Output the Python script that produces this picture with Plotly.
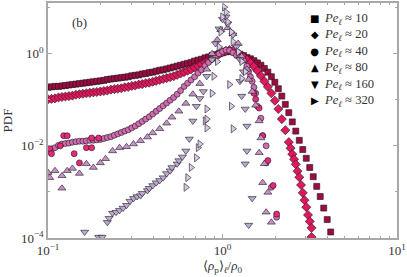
import plotly.graph_objects as go

# ---- data (decade exponents: log10 of <rho_p>/rho_0 and log10 of PDF) ----
labels = ["10", "20", "40", "80", "160", "320"]

pe10_lx = [-1.00,-0.98,-0.96,-0.94,-0.92,-0.90,-0.88,-0.86,-0.84,-0.82,-0.80,-0.78,-0.76,-0.74,-0.72,-0.70,
           -0.68,-0.66,-0.64,-0.62,-0.60,-0.58,-0.56,-0.54,-0.52,-0.50,-0.48,-0.46,-0.44,-0.42,-0.40,-0.38,
           -0.36,-0.34,-0.32,-0.30,-0.28,-0.26,-0.24,-0.22,-0.20,-0.18,-0.16,-0.14,-0.12,-0.10,-0.08,-0.06,
           -0.04,-0.02,0.00,0.02,0.04,0.06,0.08,0.10,0.12,0.14,0.16,0.18,0.20,0.22,0.24,0.26,0.28,0.30,
           0.32,0.34,0.36,0.38,0.40,0.42,0.44,0.46,0.48,0.50,0.52,0.54,0.56,0.58,0.60,0.62]
pe10_ly = [-0.73,-0.72,-0.71,-0.71,-0.70,-0.69,-0.68,-0.67,-0.66,-0.65,-0.64,-0.63,-0.62,-0.61,-0.60,-0.59,
           -0.58,-0.56,-0.55,-0.54,-0.53,-0.52,-0.51,-0.50,-0.48,-0.47,-0.46,-0.44,-0.43,-0.41,-0.40,-0.38,
           -0.36,-0.35,-0.33,-0.31,-0.29,-0.27,-0.25,-0.23,-0.21,-0.19,-0.16,-0.14,-0.12,-0.09,-0.07,-0.04,
           -0.02,0.00,0.02,0.04,0.05,0.04,0.02,-0.01,-0.04,-0.08,-0.11,-0.15,-0.20,-0.25,-0.32,-0.40,-0.50,-0.62,
           -0.76,-0.92,-1.10,-1.28,-1.48,-1.68,-1.88,-2.08,-2.27,-2.47,-2.67,-2.88,-3.10,-3.35,-3.60,-3.87]

pe20_lx = [-1.00,-0.98,-0.96,-0.94,-0.92,-0.90,-0.88,-0.86,-0.84,-0.82,-0.80,-0.78,-0.76,-0.74,-0.72,-0.70,
           -0.68,-0.66,-0.64,-0.62,-0.60,-0.58,-0.56,-0.54,-0.52,-0.50,-0.48,-0.46,-0.44,-0.42,-0.40,-0.38,
           -0.36,-0.34,-0.32,-0.30,-0.28,-0.26,-0.24,-0.22,-0.20,-0.18,-0.16,-0.14,-0.12,-0.10,-0.08,-0.06,
           -0.04,-0.02,0.00,0.02,0.04,0.06,0.08,0.10,0.12,0.14,0.16,0.18,0.20,0.22,0.24,0.26,0.28,0.30,
           0.32,0.34,0.36,0.38,0.39,0.40,0.41,0.42,0.43,0.44,0.45,0.46,0.47,0.48,0.49,0.50,0.51,0.51]
pe20_ly = [-0.99,-0.98,-0.97,-0.95,-0.94,-0.93,-0.92,-0.91,-0.89,-0.88,-0.87,-0.86,-0.85,-0.84,-0.83,-0.82,
           -0.81,-0.80,-0.78,-0.77,-0.76,-0.75,-0.73,-0.72,-0.70,-0.69,-0.67,-0.66,-0.64,-0.63,-0.61,-0.59,
           -0.57,-0.55,-0.53,-0.51,-0.49,-0.46,-0.43,-0.40,-0.37,-0.34,-0.30,-0.27,-0.23,-0.19,-0.15,-0.10,
           -0.06,-0.01,0.03,0.06,0.08,0.07,0.03,-0.02,-0.07,-0.13,-0.20,-0.28,-0.37,-0.48,-0.60,-0.72,-0.86,-1.02,
           -1.20,-1.42,-1.66,-1.92,-2.05,-2.18,-2.29,-2.40,-2.55,-2.68,-2.85,-3.02,-3.18,-3.33,-3.50,-3.64,-3.78,-3.98]

pe40_lx = [-1.00,-0.98,-0.96,-0.94,-0.92,-0.90,-0.88,-0.86,-0.84,-0.82,-0.80,-0.78,-0.76,-0.74,-0.72,-0.70,
           -0.68,-0.66,-0.64,-0.62,-0.60,-0.58,-0.56,-0.54,-0.52,-0.50,-0.48,-0.46,-0.44,-0.42,-0.40,-0.38,
           -0.36,-0.34,-0.32,-0.30,-0.28,-0.26,-0.24,-0.22,-0.20,-0.18,-0.16,-0.14,-0.12,-0.10,-0.08,-0.06,
           -0.04,-0.02,0.00,0.02,0.04,0.06,0.08,0.10,0.12,0.14,0.15,0.16,0.17,0.18,0.19,0.20,0.22,0.23,
           0.25,0.25,0.28,0.31]
pe40_ly = [-2.12,-2.08,-2.04,-1.99,-1.96,-1.95,-1.94,-1.92,-1.91,-1.90,-1.90,-1.89,-1.88,-1.88,-1.87,-1.86,
           -1.84,-1.82,-1.80,-1.77,-1.74,-1.71,-1.68,-1.65,-1.61,-1.57,-1.52,-1.47,-1.42,-1.37,-1.31,-1.25,
           -1.19,-1.13,-1.07,-1.01,-0.95,-0.88,-0.80,-0.71,-0.64,-0.57,-0.50,-0.42,-0.35,-0.26,-0.19,-0.12,
           -0.05,0.00,0.05,0.08,0.07,0.02,-0.04,-0.08,-0.14,-0.27,-0.39,-0.50,-0.60,-0.73,-0.86,-1.14,-1.40,-1.78,
           -2.00,-2.37,-2.90,-3.55]

# second (brighter) set of Pe~40 points
pe40b_lx = [-0.99,-0.98,-0.93,-0.91,-0.89,-0.85,-0.82,-0.78,-0.75,-0.75,-0.71,
            0.18,0.19,0.21,0.23,0.26,0.29,0.31]
pe40b_ly = [-2.06,-2.17,-2.00,-1.78,-1.78,-2.17,-2.37,-2.04,-2.04,-1.83,-1.83,
            -0.86,-0.99,-1.18,-1.78,-2.32,-2.86,-3.48]

pe80_lx = [-1.00,-0.99,-0.96,-0.92,-0.92,-0.89,-0.86,-0.82,-0.78,-0.74,-0.70,-0.67,-0.63,-0.59,-0.55,-0.51,
           -0.47,-0.43,-0.40,-0.36,-0.32,-0.29,-0.25,-0.21,-0.17,-0.13,-0.09,-0.06,-0.03,-0.01,0.03,0.06,
           0.09,0.11,0.14,0.15,0.17,0.19,0.21,0.22,0.21,0.24,0.23,0.26,0.25,0.28]
pe80_ly = [-2.58,-2.69,-2.54,-2.65,-2.92,-2.54,-2.49,-2.60,-2.39,-2.47,-2.37,-2.28,-2.11,-2.04,-2.02,-1.96,
           -1.89,-1.81,-1.72,-1.63,-1.51,-1.38,-1.25,-1.08,-0.88,-0.65,-0.34,0.00,0.30,0.52,0.56,0.43,
           0.22,-0.06,-0.34,-0.56,-0.82,-1.12,-1.46,-1.83,-2.15,-2.39,-2.80,-3.01,-3.44,-3.66]

pe160_lx = [-0.79,-0.71,-0.69,-0.66,-0.65,-0.63,-0.61,-0.59,-0.57,-0.55,-0.53,-0.51,-0.49,-0.47,-0.46,-0.43,
            -0.42,-0.40,-0.38,-0.36,-0.34,-0.32,-0.30,-0.29,-0.26,-0.25,-0.23,-0.21,-0.19,-0.17,-0.15,-0.13,
            -0.11,-0.09,-0.06,-0.04,-0.02,0.00,0.02,0.03,0.06,0.08,0.10,0.12,0.10,0.11,0.13,0.14,0.14,0.13,
            0.17,0.15]
pe160_ly = [-3.87,-3.98,-3.98,-3.66,-3.57,-3.46,-3.44,-3.40,-3.35,-3.29,-3.20,-3.14,-3.10,-3.08,-3.03,-2.97,
            -2.92,-2.86,-2.80,-2.75,-2.69,-2.60,-2.54,-2.47,-2.39,-2.32,-2.24,-2.11,-1.85,-1.46,-1.14,-0.97,
            -0.82,-0.49,-0.13,0.22,0.54,0.75,0.80,0.65,0.41,0.15,-0.13,-0.39,-0.60,-0.92,-1.20,-1.57,-2.11,-2.39,
            -3.14,-3.72]

pe320_lx = [-0.21,-0.20,-0.18,-0.15,-0.14,-0.13,-0.10,-0.09,-0.09,-0.09,-0.06,-0.05,-0.03,-0.02,-0.01,0.00,
            0.01,0.02,0.03,0.05,0.06,0.09,0.11,0.13,0.11,0.04,0.05,0.06]
pe320_ly = [-2.90,-2.69,-2.47,-2.26,-2.04,-1.96,-1.46,-1.42,-1.20,-1.61,-0.86,-0.49,-0.17,0.15,0.47,0.80,
            1.01,0.90,0.69,0.47,0.26,0.04,-0.17,-0.39,-0.54,-0.67,-1.14,-1.63]

colors = ["#a00a44", "#e0185e", "#d06cb0", "#c690c8", "#bca8d0", "#dac8e8"]
color_40b = "#e8287a"
symbols = ["square", "diamond", "circle", "triangle-up", "triangle-down", "triangle-right"]
legend_glyphs = ["■", "◆", "●", "▲", "▼", "▶"]
sizes = [6, 7, 6, 7, 7, 7]

FONT = "Liberation Serif"
TXT = "#333333"


def pw(v):
    return [10 ** t for t in v]


series = [
    (pe10_lx, pe10_ly, colors[0], symbols[0], sizes[0]),
    (pe20_lx, pe20_ly, colors[1], symbols[1], sizes[1]),
    (pe40_lx, pe40_ly, colors[2], symbols[2], sizes[2]),
    (pe40b_lx, pe40b_ly, color_40b, symbols[2], sizes[2]),
    (pe80_lx, pe80_ly, colors[3], symbols[3], sizes[3]),
    (pe160_lx, pe160_ly, colors[4], symbols[4], sizes[4]),
    (pe320_lx, pe320_ly, colors[5], symbols[5], sizes[5]),
]

fig = go.Figure()
for lx, ly, c, s, sz in series:
    fig.add_trace(go.Scatter(
        x=pw(lx), y=pw(ly), mode="markers", showlegend=False,
        marker=dict(symbol=s, size=sz, color=c, line=dict(color="#1a1a1a", width=0.6)),
        hoverinfo="skip"))

axis_common = dict(
    type="log", showgrid=False, zeroline=False, mirror="allticks",
    showline=True, linecolor="#a8a8a8", linewidth=1.5,
    ticks="inside", tickcolor="#a8a8a8", ticklen=4, tickwidth=1,
    tickfont=dict(family=FONT, size=13, color=TXT),
)

fig.update_xaxes(
    **axis_common, range=[-1, 1],
    tickvals=[0.1, 1, 10], ticktext=["10<sup>−1</sup>", "10<sup>0</sup>", "10<sup>1</sup>"],
    minor=dict(ticks="inside", ticklen=2.5, tickcolor="#a8a8a8",
               tickvals=[0.2, 0.3, 0.4, 0.5, 0.6, 0.7, 0.8, 0.9, 2, 3, 4, 5, 6, 7, 8, 9]),
    title=dict(text="⟨<i>ρ</i><sub>p</sub>⟩<sub><i>ℓ</i></sub>/<i>ρ</i><sub>0</sub>",
               font=dict(family=FONT, size=13, color=TXT), standoff=4),
)
fig.update_yaxes(
    **axis_common, range=[-4, 1.1],
    tickvals=[1e-4, 1e-2, 1], ticktext=["10<sup>−4</sup>", "10<sup>−2</sup>", "10<sup>0</sup>"],
    minor=dict(ticks="inside", ticklen=2.5, tickcolor="#a8a8a8", tickvals=[1e-3, 1e-1, 10]),
    title=dict(text="PDF", font=dict(family=FONT, size=13, color=TXT), standoff=6),
)

fig.add_annotation(x=0.063, y=0.956, xref="paper", yref="paper", text="(b)", showarrow=False,
                   font=dict(family=FONT, size=13, color=TXT))

# legend drawn as two text columns (glyphs + labels)
fig.add_annotation(
    x=0.763, y=0.7595, xref="paper", yref="paper", xanchor="center", yanchor="middle",
    text="<br>".join('<span style="font-size:10px">' + g + "</span>" for g in legend_glyphs),
    showarrow=False, align="center",
    font=dict(family="DejaVu Sans", size=12.6, color="black"))
fig.add_annotation(
    x=0.786, y=0.7595, xref="paper", yref="paper", xanchor="left", yanchor="middle",
    text="<br>".join("<i>Pe</i><sub><i>ℓ</i></sub> ≈ " + lab for lab in labels),
    showarrow=False, align="left",
    font=dict(family=FONT, size=12.6, color=TXT))

fig.update_layout(
    width=407, height=277,
    margin=dict(l=48, r=9, t=1, b=39),
    paper_bgcolor="white", plot_bgcolor="white",
    showlegend=False,
)

fig.write_html("out.html", config={"displayModeBar": False},
               post_script="document.body.style.margin='0';")
